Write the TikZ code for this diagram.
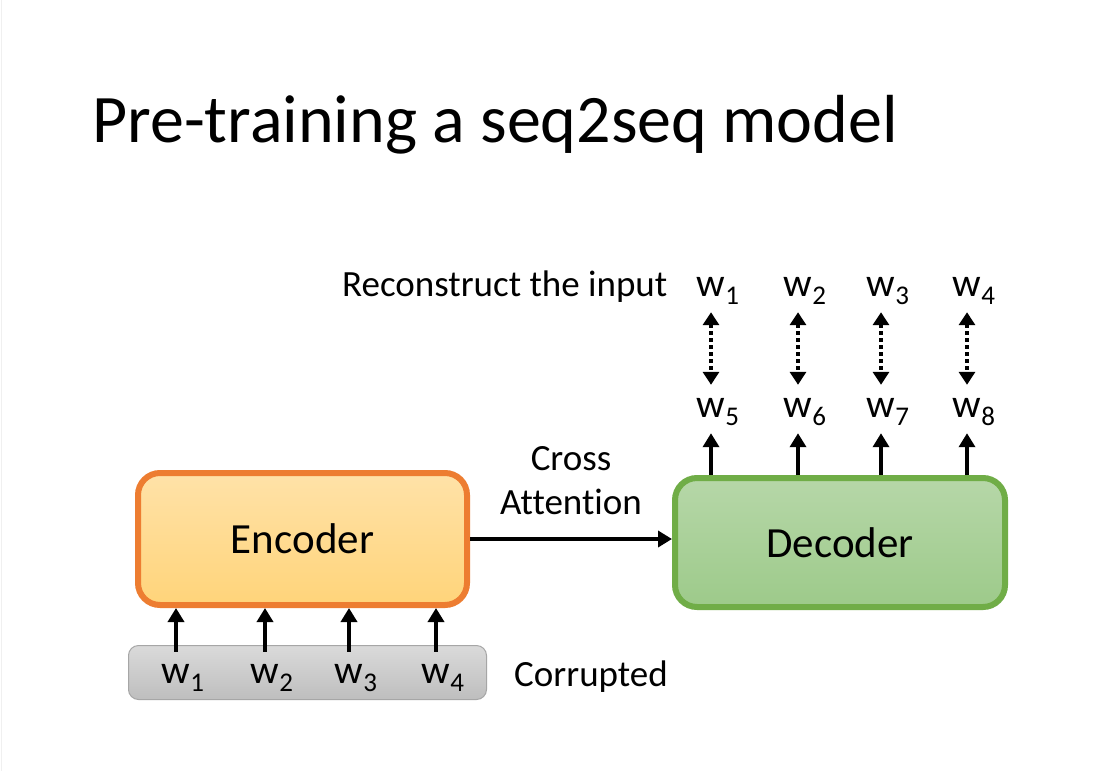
\documentclass[tikz,border=0pt]{standalone}
\usepackage{fontspec}
\setmainfont[Ligatures=NoCommon]{Carlito}
\usepackage{xcolor}
\usepackage{tikz}
\usetikzlibrary{arrows.meta}

\definecolor{encline}{HTML}{ED7D31}
\definecolor{enctop}{HTML}{FFE2A8}
\definecolor{encbot}{HTML}{FFD47A}
\definecolor{decline}{HTML}{70AD47}
\definecolor{dectop}{HTML}{B6D7A8}
\definecolor{decbot}{HTML}{9DCA8A}
\definecolor{boxline}{HTML}{A6A6A6}
\definecolor{boxtop}{HTML}{DADADA}
\definecolor{boxbot}{HTML}{BEBEBE}

\newcommand{\wlab}[1]{w\rlap{\raisebox{-8pt}{\fontsize{27}{27}\selectfont #1}}}

\begin{document}
\begin{tikzpicture}[x=1pt, y=-1pt,
    arr/.style={line width=4.5pt, -{Triangle[width=16pt, length=14pt]}},
    dots/.style={line width=4.5pt, dash pattern=on 4pt off 3pt, {Triangle[width=16pt, length=13pt]}-{Triangle[width=16pt, length=13pt]}},
    word/.style={inner sep=0pt, anchor=base, text height=19pt, text depth=9pt, font=\fontsize{40}{48}\selectfont},
    txt/.style={inner sep=0pt, font=\fontsize{37}{44}\selectfont},
    block/.style={line width=6pt, rounded corners=22pt, font=\fontsize{43}{50}\selectfont}]
    \fill[white] (0, 0) rectangle (1118, 771);
    \useasboundingbox (0, 0) rectangle (1118, 771);
    \draw[gray!12, line width=1pt] (1, 0) -- (1, 771);

    \node[anchor=base west, inner sep=0pt, font=\fontsize{68}{80}\selectfont] at (92, 142) (title) {Pre-training a seq2seq model};

    \node[block, draw=encline, top color=enctop, bottom color=encbot, minimum width=329pt, minimum height=132pt] at (302.5, 539) (enc) {Encoder};
    \node[block, draw=decline, top color=dectop, bottom color=decbot, minimum width=330pt, minimum height=129pt] at (840, 542.5) (dec) {Decoder};
    \node[draw=boxline, line width=1pt, rounded corners=10pt, top color=boxtop, bottom color=boxbot, minimum width=358pt, minimum height=54pt] at (307.5, 672.5) (cor) {};

    \node[word] at (176, 683) (i1) {\wlab{1}};
    \node[word] at (265, 683) (i2) {\wlab{2}};
    \node[word] at (349, 683) (i3) {\wlab{3}};
    \node[word] at (436, 683) (i4) {\wlab{4}};
    \node[txt, anchor=base west] at (514, 686) (corr) {Corrupted};

    \node[word] at (711, 417) (o5) {\wlab{5}};
    \node[word] at (798, 417) (o6) {\wlab{6}};
    \node[word] at (881, 417) (o7) {\wlab{7}};
    \node[word] at (967, 417) (o8) {\wlab{8}};

    \node[word] at (711, 296) (t1) {\wlab{1}};
    \node[word] at (798, 296) (t2) {\wlab{2}};
    \node[word] at (881, 296) (t3) {\wlab{3}};
    \node[word] at (967, 296) (t4) {\wlab{4}};
    \node[txt, anchor=base west] at (342, 296) (rec) {Reconstruct the input};

    \draw[arr, shorten <=12pt] (i1.north) -- (i1.north |- enc.south);
    \draw[arr, shorten <=12pt] (i2.north) -- (i2.north |- enc.south);
    \draw[arr, shorten <=12pt] (i3.north) -- (i3.north |- enc.south);
    \draw[arr, shorten <=12pt] (i4.north) -- (i4.north |- enc.south);

    \draw[arr] (enc.east) -- (enc.east -| dec.west) node[midway, above=22pt, txt, align=center, text depth=0pt] (ca) {Cross\\Attention};

    \draw[arr, shorten >=7pt] (o5.south |- dec.north) -- (o5.south);
    \draw[arr, shorten >=7pt] (o6.south |- dec.north) -- (o6.south);
    \draw[arr, shorten >=7pt] (o7.south |- dec.north) -- (o7.south);
    \draw[arr, shorten >=7pt] (o8.south |- dec.north) -- (o8.south);

    \draw[dots, shorten <=7pt, shorten >=13pt] (t1.south) -- (o5.north);
    \draw[dots, shorten <=7pt, shorten >=13pt] (t2.south) -- (o6.north);
    \draw[dots, shorten <=7pt, shorten >=13pt] (t3.south) -- (o7.north);
    \draw[dots, shorten <=7pt, shorten >=13pt] (t4.south) -- (o8.north);
\end{tikzpicture}
\end{document}
